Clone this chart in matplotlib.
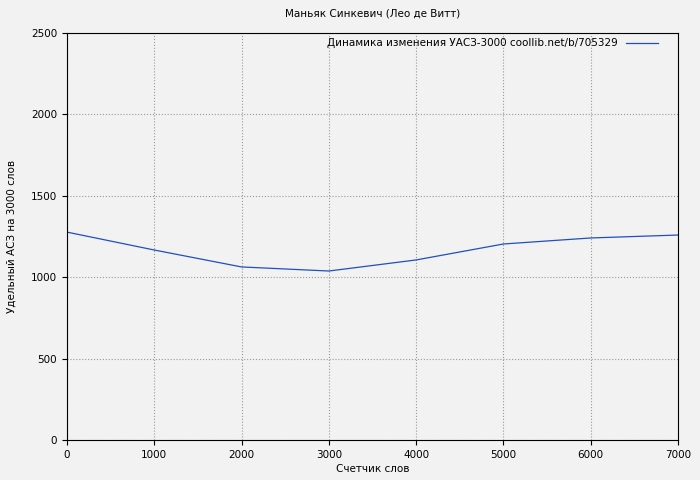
import matplotlib
matplotlib.use("Agg")
import matplotlib.pyplot as plt

words = [0, 1000, 2000, 3000, 4000, 5000, 6000, 7000]
uasz = [1277, 1167, 1063, 1038, 1106, 1204, 1241, 1259]

plt.rcParams["font.family"] = ["DejaVu Sans"]
plt.rcParams["font.size"] = 7.5

fig = plt.figure(figsize=(7, 4.8), dpi=100, facecolor="#f2f2f2")
ax = fig.add_axes([67 / 700, 40 / 480, 611 / 700, 407 / 480], facecolor="#f2f2f2")

ax.plot(words, uasz, color="#1f4fc0", linewidth=0.9,
        label="Динамика изменения УАСЗ-3000 coollib.net/b/705329")
ax.set_xlim(0, 7000)
ax.set_ylim(0, 2500)
ax.set_xticks(range(0, 7001, 1000))
ax.set_yticks(range(0, 2501, 500))
ax.grid(True, color="#999999", linestyle=":", linewidth=0.8)
ax.set_title("Маньяк Синкевич (Лео де Витт)", fontsize=7.5, pad=12)
ax.set_xlabel("Счетчик слов", labelpad=3)
ax.set_ylabel("Удельный АСЗ на 3000 слов", labelpad=10)
ax.legend(loc="upper right", frameon=False, handlelength=3, borderaxespad=0.1,
          markerfirst=False, bbox_to_anchor=(0.975, 1.0))

fig.savefig("out.png", dpi=100, facecolor=fig.get_facecolor())
